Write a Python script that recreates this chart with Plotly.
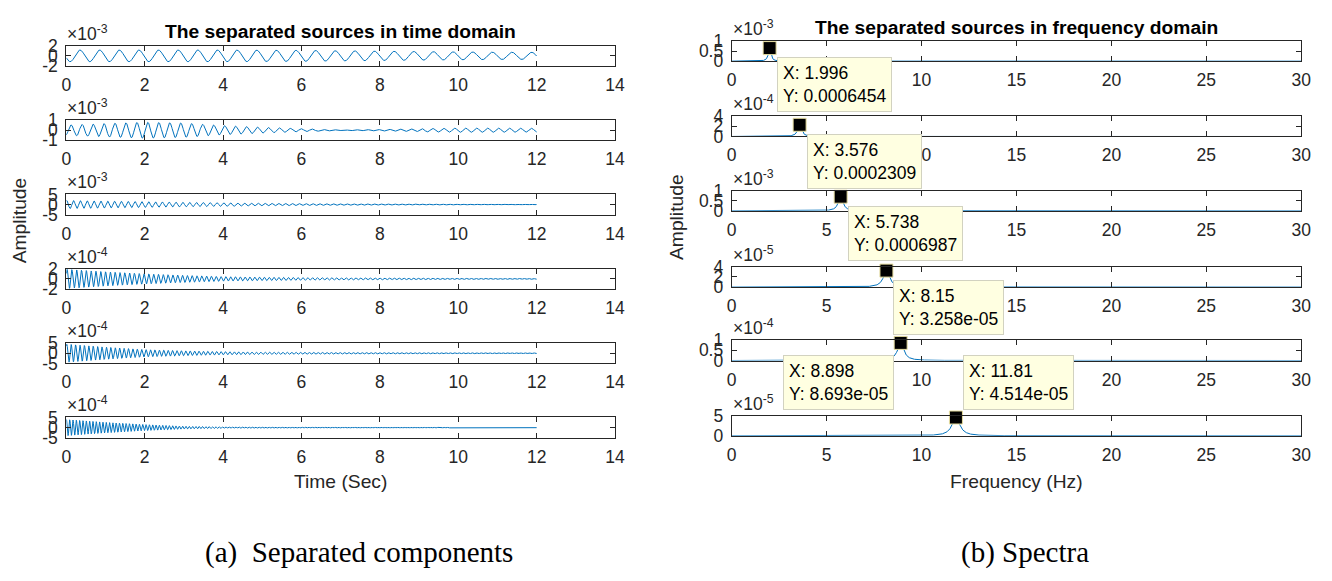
import numpy as np
import plotly.graph_objects as go

W, H = 1332, 581

# ---------------- data ----------------
time_freqs = [1.996, 3.576, 5.738, 8.15, 8.898, 11.81]          # Hz
time_phases = [-2.8, -1.2, 1.2, 0.6, 0.9, 1.4]                   # rad
env_t = [0, 1, 2, 3, 4, 5, 6, 7, 8, 9, 10, 11, 12]               # s
env_1 = [1.15, 1.15, 1.15, 1.15, 1.15, 1.12, 1.08, 1.0, 0.92, 0.85, 0.78, 0.72, 0.70]   # x1e-3
env_2 = [0.50, 0.65, 0.78, 0.70, 0.45, 0.28, 0.14, 0.04, 0.08, 0.15, 0.20, 0.20, 0.18]  # x1e-3
env_3 = [2.0, 1.7, 1.4, 1.1, 0.85, 0.65, 0.5, 0.38, 0.3, 0.24, 0.19, 0.16, 0.13]        # x1e-3
env_4 = [1.9, 1.4, 1.0, 0.7, 0.45, 0.35, 0.28, 0.22, 0.18, 0.15, 0.12, 0.10, 0.09]      # x1e-4
env_5 = [4.5, 3.0, 1.8, 1.2, 0.8, 0.6, 0.5, 0.4, 0.35, 0.3, 0.25, 0.22, 0.2]            # x1e-4
env_6 = [4.0, 2.6, 1.5, 0.7, 0.35, 0.25, 0.2, 0.18, 0.15, 0.13, 0.12, 0.1, 0.1]         # x1e-4
env_scale = [1e-3, 1e-3, 1e-3, 1e-4, 1e-4, 1e-4]

# time-domain axes
time_ylim = [2e-3, 1e-3, 5e-3, 2e-4, 5e-4, 5e-4]
time_ytick_text = [["-2", "0", "2"], ["-1", "0", "1"], ["-5", "0", "5"],
                   ["-2", "0", "2"], ["-5", "0", "5"], ["-5", "0", "5"]]
time_exp = ["-3", "-3", "-3", "-4", "-4", "-4"]
time_xticks = [0, 2, 4, 6, 8, 10, 12, 14]

# spectra: peaks from the data tips
peak_freq = [1.996, 3.576, 5.738, 8.15, 8.898, 11.81]
peak_amp = [0.0006454, 0.0002309, 0.0006987, 3.258e-05, 8.693e-05, 4.514e-05]
peak_label_x = ["1.996", "3.576", "5.738", "8.15", "8.898", "11.81"]
peak_label_y = ["0.0006454", "0.0002309", "0.0006987", "3.258e-05", "8.693e-05", "4.514e-05"]
peak_width = [0.08, 0.12, 0.15, 0.2, 0.2, 0.25]                 # Hz half width
spec_ymax = [1e-3, 4e-4, 1e-3, 4e-5, 1e-4, 5e-5]
spec_ytick_vals = [[0, 0.5e-3, 1e-3], [0, 2e-4, 4e-4], [0, 0.5e-3, 1e-3],
                   [0, 2e-5, 4e-5], [0, 0.5e-4, 1e-4], [0, 5e-5]]
spec_ytick_text = [["0", "0.5", "1"], ["0", "2", "4"], ["0", "0.5", "1"],
                   ["0", "2", "4"], ["0", "0.5", "1"], ["0", "5"]]
spec_exp = ["-3", "-4", "-3", "-5", "-4", "-5"]
spec_xticks = [0, 5, 10, 15, 20, 25, 30]

envs = [env_1, env_2, env_3, env_4, env_5, env_6]

# ---------------- layout geometry (page pixels) ----------------
L_X0, L_X1 = 62, 617
R_X0, R_X1 = 735, 1311
L_TOPS = [37, 114, 191, 268, 345, 422]
R_TOPS = [32, 110, 187, 266, 342, 420]
BOX_H = 21

AX_COL = "#262626"
LINE_COL = "#0072BD"
FONT = "Liberation Sans, Arial, sans-serif"
TICK_SIZE = 17.5
LABEL_SIZE = 19.25

def px(x):
    return x / W

def py(y):
    return 1 - y / H

fig = go.Figure()
layout = dict(width=W, height=H, margin=dict(l=0, r=0, t=0, b=0), autosize=False,
              paper_bgcolor="white", plot_bgcolor="white", showlegend=False,
              font=dict(family=FONT, size=16, color=AX_COL))
annotations = []

t = np.linspace(0, 12, 2401)

def axis_style(**kw):
    d = dict(showline=True, mirror="ticks", linecolor=AX_COL, linewidth=1,
             ticks="inside", ticklen=5, tickwidth=1, tickcolor=AX_COL,
             showgrid=False, zeroline=False, fixedrange=True,
             tickfont=dict(family=FONT, size=TICK_SIZE, color=AX_COL))
    d.update(kw)
    return d

for i in range(6):
    # ---- left: time domain ----
    n = i + 1
    env = np.interp(t, env_t, envs[i]) * env_scale[i]
    y = env * np.sin(2 * np.pi * time_freqs[i] * t + time_phases[i])
    fig.add_trace(go.Scatter(x=t, y=y, mode="lines", line=dict(color=LINE_COL, width=1),
                             xaxis=f"x{n}", yaxis=f"y{n}", hoverinfo="skip"))
    top = L_TOPS[i]
    lim = time_ylim[i]
    layout[f"xaxis{n}"] = axis_style(domain=[px(L_X0), px(L_X1)], anchor=f"y{n}",
                                      range=[0, 14], tickvals=time_xticks,
                                      ticktext=[str(v) for v in time_xticks],
                                      ticklabelstandoff=3)
    layout[f"yaxis{n}"] = axis_style(domain=[py(top + BOX_H), py(top)], anchor=f"x{n}",
                                      range=[-lim, lim], tickvals=[-lim, 0, lim],
                                      ticktext=time_ytick_text[i], ticklabelstandoff=4)
    annotations.append(dict(xref="paper", yref="paper", x=px(L_X0 - 1), y=py(top),
                            xanchor="left", yanchor="bottom", showarrow=False,
                            text=f"\u00d710<sup>{time_exp[i]}</sup>",
                            font=dict(family=FONT, size=TICK_SIZE, color=AX_COL)))

    # ---- right: spectra ----
    m = i + 7
    f = np.union1d(np.linspace(0, 30, 3001), [peak_freq[i]])
    g = peak_width[i]
    s = peak_amp[i] * g ** 2 / ((f - peak_freq[i]) ** 2 + g ** 2)
    fig.add_trace(go.Scatter(x=f, y=s, mode="lines", line=dict(color=LINE_COL, width=1),
                             xaxis=f"x{m}", yaxis=f"y{m}", hoverinfo="skip"))
    fig.add_trace(go.Scatter(x=[peak_freq[i]], y=[peak_amp[i]], mode="markers",
                             marker=dict(symbol="square", size=13, color="black",
                                         line=dict(color="#E8DFA0", width=1)),
                             cliponaxis=False, xaxis=f"x{m}", yaxis=f"y{m}", hoverinfo="skip"))
    top = R_TOPS[i]
    layout[f"xaxis{m}"] = axis_style(domain=[px(R_X0), px(R_X1)], anchor=f"y{m}",
                                      range=[0, 30], tickvals=spec_xticks,
                                      ticktext=[str(v) for v in spec_xticks],
                                      ticklabelstandoff=3)
    layout[f"yaxis{m}"] = axis_style(domain=[py(top + BOX_H), py(top)], anchor=f"x{m}",
                                      range=[0, spec_ymax[i]], tickvals=spec_ytick_vals[i],
                                      ticktext=spec_ytick_text[i], ticklabelstandoff=4)
    annotations.append(dict(xref="paper", yref="paper", x=px(R_X0 - 1), y=py(top),
                            xanchor="left", yanchor="bottom", showarrow=False,
                            text=f"\u00d710<sup>{spec_exp[i]}</sup>",
                            font=dict(family=FONT, size=TICK_SIZE, color=AX_COL)))

    # data tip box
    tip = dict(xref=f"x{m}", yref=f"y{m}", x=peak_freq[i], y=peak_amp[i],
               showarrow=False, align="left",
               text=f"X: {peak_label_x[i]}<br>Y: {peak_label_y[i]}",
               bgcolor="#FFFFE1", bordercolor="#D2D2C0", borderwidth=1, borderpad=5,
               font=dict(family=FONT, size=17.5, color="black"))
    if i < 4:
        tip.update(xanchor="left", yanchor="top", xshift=7, yshift=-9)
    elif i == 4:
        tip.update(xanchor="right", yanchor="top", xshift=-7, yshift=-12)
    else:
        tip.update(xanchor="left", yanchor="bottom", xshift=7, yshift=8)
    annotations.append(tip)

# titles and labels
annotations += [
    dict(xref="paper", yref="paper", x=px((L_X0 + L_X1) / 2), y=py(22), showarrow=False,
         text="<b>The separated sources in time domain</b>", xanchor="center", yanchor="middle",
         font=dict(family=FONT, size=LABEL_SIZE, color="black")),
    dict(xref="paper", yref="paper", x=px((R_X0 + R_X1) / 2), y=py(18), showarrow=False,
         text="<b>The separated sources in frequency domain</b>", xanchor="center", yanchor="middle",
         font=dict(family=FONT, size=LABEL_SIZE, color="black")),
    dict(xref="paper", yref="paper", x=px((L_X0 + L_X1) / 2), y=py(488), showarrow=False,
         text="Time (Sec)", xanchor="center", yanchor="middle",
         font=dict(family=FONT, size=LABEL_SIZE, color=AX_COL)),
    dict(xref="paper", yref="paper", x=px((R_X0 + R_X1) / 2), y=py(488), showarrow=False,
         text="Frequency (Hz)", xanchor="center", yanchor="middle",
         font=dict(family=FONT, size=LABEL_SIZE, color=AX_COL)),
    dict(xref="paper", yref="paper", x=px(15), y=py(218), showarrow=False, textangle=-90,
         text="Amplitude", xanchor="center", yanchor="middle",
         font=dict(family=FONT, size=LABEL_SIZE, color=AX_COL)),
    dict(xref="paper", yref="paper", x=px(679), y=py(214), showarrow=False, textangle=-90,
         text="Amplitude", xanchor="center", yanchor="middle",
         font=dict(family=FONT, size=LABEL_SIZE, color=AX_COL)),
    dict(xref="paper", yref="paper", x=px(358), y=py(562), showarrow=False,
         text="(a)  Separated components", xanchor="center", yanchor="middle",
         font=dict(family="Liberation Serif, Times New Roman, serif", size=29, color="black")),
    dict(xref="paper", yref="paper", x=px(1032), y=py(562), showarrow=False,
         text="(b) Spectra", xanchor="center", yanchor="middle",
         font=dict(family="Liberation Serif, Times New Roman, serif", size=29, color="black")),
]
layout["annotations"] = annotations
fig.update_layout(**layout)
fig.write_html("out.html", config={"displayModeBar": False},
               post_script="document.body.style.margin='0px';document.body.style.overflow='hidden';")
